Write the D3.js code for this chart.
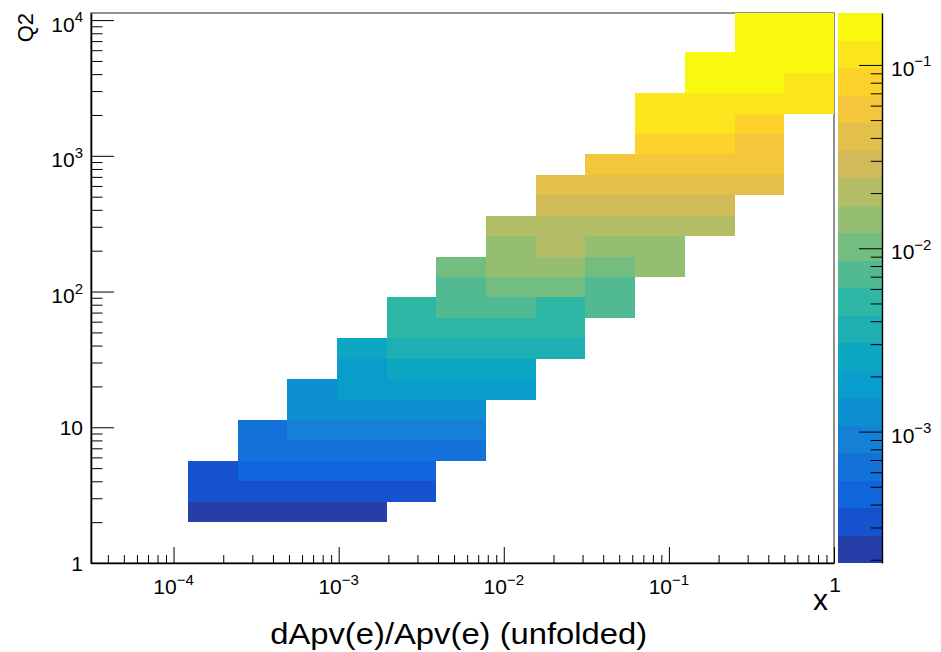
<!DOCTYPE html>
<html>
<head>
<meta charset="utf-8">
<script src="https://cdn.jsdelivr.net/npm/d3@7"></script>
<style>
  html, body { margin: 0; padding: 0; background: #fff; }
  svg { display: block; font-family: "Liberation Sans", Arial, Helvetica, sans-serif; }
</style>
</head>
<body>
<svg id="chart" width="941" height="652"></svg>
<script>
// ---- binning (x in powers of two, Q2 in half powers of two) ----
const xEdges = [1.220703125e-4, 2.44140625e-4, 4.8828125e-4, 9.765625e-4, 1.953125e-3,
                3.90625e-3, 7.8125e-3, 0.015625, 0.03125, 0.0625, 0.125, 0.25, 0.5, 1];
const q2Edges = [2, 2.828, 4, 5.657, 8, 11.31, 16, 22.63, 32, 45.25, 64, 90.51, 128,
                 181.0, 256, 362.0, 512, 724.1, 1024, 1448, 2048, 2896, 4096, 5793, 8192, 11585];

// bin contents, one row per Q2 bin (lowest first), one entry per x bin; 0 = empty
const contents = [
  [2.31e-4, 2.18e-4, 2.44e-4, 2.26e-4, 0, 0, 0, 0, 0, 0, 0, 0, 0],
  [3.12e-4, 3.35e-4, 3.28e-4, 3.04e-4, 3.19e-4, 0, 0, 0, 0, 0, 0, 0, 0],
  [3.58e-4, 4.42e-4, 4.71e-4, 4.63e-4, 4.36e-4, 0, 0, 0, 0, 0, 0, 0, 0],
  [0, 6.21e-4, 6.55e-4, 6.73e-4, 6.38e-4, 6.02e-4, 0, 0, 0, 0, 0, 0, 0],
  [0, 7.21e-4, 8.84e-4, 9.32e-4, 9.05e-4, 8.63e-4, 0, 0, 0, 0, 0, 0, 0],
  [0, 0, 1.24e-3, 1.31e-3, 1.36e-3, 1.22e-3, 0, 0, 0, 0, 0, 0, 0],
  [0, 0, 1.41e-3, 1.78e-3, 1.87e-3, 1.83e-3, 1.69e-3, 0, 0, 0, 0, 0, 0],
  [0, 0, 0, 1.96e-3, 2.48e-3, 2.61e-3, 2.52e-3, 0, 0, 0, 0, 0, 0],
  [0, 0, 0, 2.71e-3, 3.55e-3, 3.72e-3, 3.64e-3, 3.38e-3, 0, 0, 0, 0, 0],
  [0, 0, 0, 0, 4.92e-3, 5.24e-3, 5.31e-3, 4.86e-3, 0, 0, 0, 0, 0],
  [0, 0, 0, 0, 5.63e-3, 6.94e-3, 7.31e-3, 5.88e-3, 6.67e-3, 0, 0, 0, 0],
  [0, 0, 0, 0, 0, 7.92e-3, 9.95e-3, 1.04e-2, 8.12e-3, 0, 0, 0, 0],
  [0, 0, 0, 0, 0, 1.11e-2, 1.38e-2, 1.47e-2, 1.08e-2, 1.29e-2, 0, 0, 0],
  [0, 0, 0, 0, 0, 0, 1.56e-2, 1.88e-2, 1.52e-2, 1.42e-2, 0, 0, 0],
  [0, 0, 0, 0, 0, 0, 1.98e-2, 2.11e-2, 2.06e-2, 1.93e-2, 1.84e-2, 0, 0],
  [0, 0, 0, 0, 0, 0, 0, 2.74e-2, 2.95e-2, 2.89e-2, 2.62e-2, 0, 0],
  [0, 0, 0, 0, 0, 0, 0, 3.92e-2, 4.18e-2, 4.27e-2, 4.03e-2, 3.71e-2, 0],
  [0, 0, 0, 0, 0, 0, 0, 0, 5.46e-2, 5.88e-2, 5.97e-2, 5.52e-2, 0],
  [0, 0, 0, 0, 0, 0, 0, 0, 0, 7.86e-2, 8.33e-2, 6.28e-2, 0],
  [0, 0, 0, 0, 0, 0, 0, 0, 0, 0.112, 0.118, 8.74e-2, 0],
  [0, 0, 0, 0, 0, 0, 0, 0, 0, 0.104, 0.121, 0.126, 0.109],
  [0, 0, 0, 0, 0, 0, 0, 0, 0, 0, 0.152, 0.163, 0.124],
  [0, 0, 0, 0, 0, 0, 0, 0, 0, 0, 0.147, 0.171, 0.158],
  [0, 0, 0, 0, 0, 0, 0, 0, 0, 0, 0, 0.178, 0.185],
  [0, 0, 0, 0, 0, 0, 0, 0, 0, 0, 0, 0.186, 0.192]
];

// displayed axis ranges
const xRange = [3.1623e-5, 1];
const q2Range = [1, 11280];
const nContours = 20;

// titles
const xTitle = "x";
const yTitle = "Q2";
const bottomLabel = "dApv(e)/Apv(e) (unfolded)";

// "bird" palette gradient stops
const birdStops = [0.0, 0.125, 0.25, 0.375, 0.5, 0.625, 0.75, 0.875, 1.0];
const birdRed   = [0.2082, 0.0592, 0.0780, 0.0232, 0.1802, 0.5301, 0.8186, 0.9956, 0.9764];
const birdGreen = [0.1664, 0.3599, 0.5041, 0.6419, 0.7178, 0.7492, 0.7328, 0.7862, 0.9832];
const birdBlue  = [0.5293, 0.8684, 0.8385, 0.7914, 0.6425, 0.4662, 0.3499, 0.1968, 0.0539];

// ---- layout ----
const frame = { left: 91, right: 834, top: 13, bottom: 563 };
const bar = { left: 838.3, right: 882 };
const labelSize = 21, supSize = 15, supRaise = 9.5;
const svg = d3.select("#chart");

// ---- scales ----
const x = d3.scaleLog().domain(xRange).range([frame.left, frame.right]);
const y = d3.scaleLog().domain(q2Range).range([frame.bottom, frame.top]);
const zMax = d3.max(contents.flat());
const zMin = zMax * 1e-3;
const z = d3.scaleLog().domain([zMin, zMax]).range([frame.bottom, frame.top]);
const zLevel = d3.scaleLog().domain([zMin, zMax]).range([0, nContours]);

// palette of 255 colours interpolated between the gradient stops
function buildPalette(n) {
  const cols = [];
  for (let g = 1; g < birdStops.length; g++) {
    const nGrad = Math.floor(n * birdStops[g]) - Math.floor(n * birdStops[g - 1]);
    for (let c = 0; c < nGrad; c++) {
      const f = c / nGrad;
      cols.push(d3.rgb(
        255 * (birdRed[g - 1] + f * (birdRed[g] - birdRed[g - 1])),
        255 * (birdGreen[g - 1] + f * (birdGreen[g] - birdGreen[g - 1])),
        255 * (birdBlue[g - 1] + f * (birdBlue[g] - birdBlue[g - 1]))
      ).formatHex());
    }
  }
  return cols;
}
const palette = buildPalette(255);
const levelColor = i => palette[Math.floor((i + 0.99) * palette.length / nContours)];
const colorOf = v => levelColor(Math.max(0, Math.min(nContours - 1, Math.floor(zLevel(v)))));

// ---- frame ----
svg.append("rect")
  .attr("x", frame.left).attr("y", frame.top)
  .attr("width", frame.right - frame.left).attr("height", frame.bottom - frame.top)
  .attr("fill", "none").attr("stroke", "#6e6e6e").attr("stroke-width", 1.5);

svg.append("clipPath").attr("id", "plotClip")
  .append("rect")
  .attr("x", frame.left).attr("y", frame.top)
  .attr("width", frame.right - frame.left).attr("height", frame.bottom - frame.top);

// ---- histogram cells ----
const cells = [];
contents.forEach((row, i) => row.forEach((v, j) => {
  if (v > 0) cells.push({ i, j, v });
}));

svg.append("g").attr("clip-path", "url(#plotClip)")
  .selectAll("rect").data(cells).join("rect")
  .attr("x", d => x(xEdges[d.j]))
  .attr("width", d => x(xEdges[d.j + 1]) - x(xEdges[d.j]))
  .attr("y", d => y(q2Edges[d.i + 1]))
  .attr("height", d => y(q2Edges[d.i]) - y(q2Edges[d.i + 1]))
  .attr("fill", d => colorOf(d.v))
  .attr("shape-rendering", "crispEdges");

// ---- helpers for log axes ----
const isDecade = v => Math.abs(Math.log10(v) - Math.round(Math.log10(v))) < 1e-6;

function powerLabel(g, v, px, py, anchor) {
  const e = Math.round(Math.log10(v));
  const t = g.append("text")
    .attr("x", px).attr("y", py)
    .attr("text-anchor", anchor)
    .attr("font-size", labelSize)
    .attr("fill", "#000");
  if (e === 0) t.text("1");
  else if (e === 1) t.text("10");
  else {
    t.append("tspan").text("10");
    t.append("tspan").attr("dy", -supRaise).attr("font-size", supSize)
      .text(e < 0 ? "\u2212" + (-e) : String(e));
  }
}
const hasSup = v => { const e = Math.round(Math.log10(v)); return e !== 0 && e !== 1; };

function styleAxis(g, width) {
  g.selectAll(".tick line").attr("stroke", "#000").attr("stroke-width", 1);
  g.select(".domain").attr("stroke", "#000").attr("stroke-width", width);
}

// ---- x axis (ticks pointing into the frame) ----
const xTicks = x.ticks();
const gxMinor = svg.append("g").attr("transform", `translate(0,${frame.bottom})`)
  .call(d3.axisBottom(x).tickValues(xTicks.filter(v => !isDecade(v)))
    .tickSizeInner(-8).tickSizeOuter(0).tickFormat(""));
gxMinor.select(".domain").remove();
styleAxis(gxMinor, 1);
const gx = svg.append("g").attr("transform", `translate(0,${frame.bottom})`)
  .call(d3.axisBottom(x).tickValues(xTicks.filter(isDecade))
    .tickSizeInner(-16).tickSizeOuter(0).tickFormat(""));
styleAxis(gx, 1.6);

const xLabels = svg.append("g");
xTicks.filter(isDecade).forEach(v =>
  powerLabel(xLabels, v, x(v) + (hasSup(v) ? 0 : 1), hasSup(v) ? 594 : 592, "middle"));

// ---- y axis ----
const yTicks = y.ticks();
const gyMinor = svg.append("g").attr("transform", `translate(${frame.left},0)`)
  .call(d3.axisLeft(y).tickValues(yTicks.filter(v => !isDecade(v)))
    .tickSizeInner(-11.5).tickSizeOuter(0).tickFormat(""));
gyMinor.select(".domain").remove();
styleAxis(gyMinor, 1);
const gy = svg.append("g").attr("transform", `translate(${frame.left},0)`)
  .call(d3.axisLeft(y).tickValues(yTicks.filter(isDecade))
    .tickSizeInner(-23).tickSizeOuter(0).tickFormat(""));
styleAxis(gy, 1.6);

const yLabels = svg.append("g");
yTicks.filter(isDecade).forEach(v =>
  powerLabel(yLabels, v, frame.left - 8, y(v) + (hasSup(v) ? 11.5 : 7.5), "end"));

// ---- colour bar ----
const levelEdges = d3.range(nContours + 1).map(k => zLevel.invert(k));
svg.append("g").selectAll("rect").data(d3.range(nContours)).join("rect")
  .attr("x", bar.left).attr("width", bar.right - bar.left)
  .attr("y", k => z(levelEdges[k + 1]))
  .attr("height", k => z(levelEdges[k]) - z(levelEdges[k + 1]))
  .attr("fill", k => levelColor(k))
  .attr("shape-rendering", "crispEdges");

const zTicks = z.ticks();
const gzMinor = svg.append("g").attr("transform", `translate(${bar.right},0)`)
  .call(d3.axisRight(z).tickValues(zTicks.filter(v => !isDecade(v)))
    .tickSizeInner(-11.3).tickSizeOuter(0).tickFormat(""));
gzMinor.select(".domain").remove();
styleAxis(gzMinor, 1);
const gz = svg.append("g").attr("transform", `translate(${bar.right},0)`)
  .call(d3.axisRight(z).tickValues(zTicks.filter(isDecade))
    .tickSizeInner(-23).tickSizeOuter(0).tickFormat(""));
styleAxis(gz, 1.4);

const zLabels = svg.append("g");
zTicks.filter(isDecade).forEach(v =>
  powerLabel(zLabels, v, bar.right + 9, z(v) + 11, "start"));

// ---- titles ----
svg.append("text")
  .attr("x", 828).attr("y", 610)
  .attr("text-anchor", "end").attr("font-size", 30)
  .text(xTitle);

svg.append("text")
  .attr("transform", `translate(33,${frame.top}) rotate(-90)`)
  .attr("text-anchor", "end").attr("font-size", 22)
  .text(yTitle);

svg.append("text")
  .attr("x", 458.7).attr("y", 644.3)
  .attr("text-anchor", "middle").attr("font-size", 30)
  .attr("textLength", 377).attr("lengthAdjust", "spacingAndGlyphs")
  .text(bottomLabel);
</script>
</body>
</html>
